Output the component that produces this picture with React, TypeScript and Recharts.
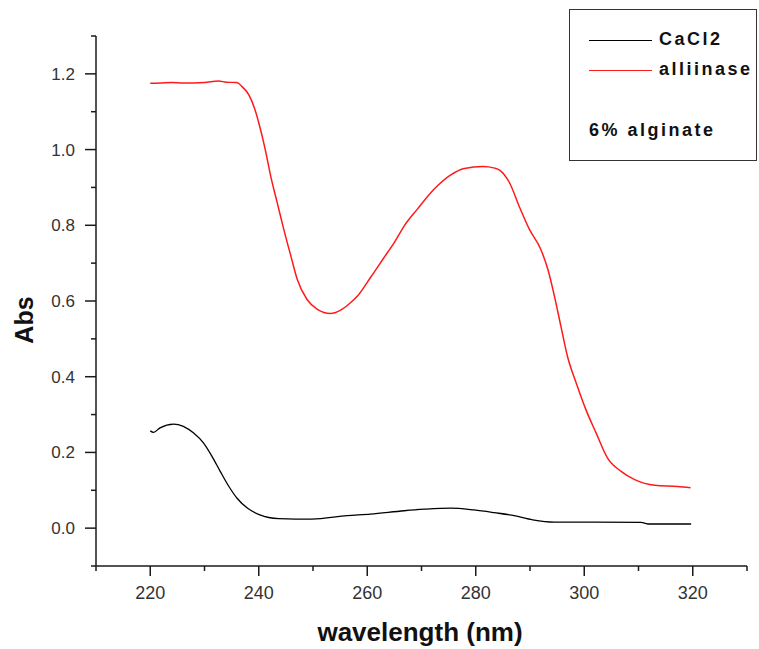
import { Line, LineChart, XAxis, YAxis } from "recharts";

// wavelength (nm) / absorbance pairs
const caclWavelength = [
  220, 220.6, 221.8, 224.3, 226.1, 228, 229.8, 231.4, 232.9, 234.5, 236, 237.9, 240.2, 243.7, 246.8,
  249.8, 256.3, 260.6, 266.8, 270.5, 275.4, 279.7, 283.4, 287.1, 290.5, 294.5, 301.9, 310.5, 311.7,
  319.7,
];
const caclAbs = [
  0.257, 0.253, 0.265, 0.275, 0.269, 0.251, 0.225, 0.189, 0.15, 0.11, 0.079, 0.053, 0.035, 0.025, 0.024,
  0.024, 0.033, 0.037, 0.046, 0.05, 0.053, 0.048, 0.041, 0.033, 0.022, 0.016, 0.016, 0.015, 0.011,
  0.011,
];

const alliinaseWavelength = [
  220, 222, 224, 226, 228, 230, 232.6, 234, 235.9, 237, 238.2, 239.2, 240, 241.2, 242.2, 243.4, 244.6,
  245.9, 247.1, 248.9, 250.8, 253.2, 255.1, 256.8, 258.2, 260.6, 263.1, 265, 266.8, 269.2, 272.3,
  275.4, 277.9, 281.3, 283.5, 284.4, 286.2, 288.1, 289.9, 292, 293.3, 294.5, 295.7, 296.9, 298.5,
  300.3, 302.2, 304.3, 306.8, 309.3, 313, 317.2, 319.6,
];
const alliinaseAbs = [
  1.175, 1.176, 1.177, 1.176, 1.176, 1.177, 1.181, 1.178, 1.177, 1.165, 1.144, 1.11, 1.071, 1.0, 0.93,
  0.86, 0.79, 0.72, 0.657, 0.604, 0.578, 0.567, 0.576, 0.594, 0.613, 0.662, 0.715, 0.755, 0.798,
  0.842, 0.895, 0.933, 0.95, 0.955, 0.951, 0.946, 0.913, 0.847, 0.789, 0.736, 0.683, 0.613, 0.533,
  0.454, 0.384, 0.313, 0.251, 0.185, 0.15, 0.128, 0.113, 0.11, 0.107,
];

const xTicks = [210, 220, 230, 240, 250, 260, 270, 280, 290, 300, 310, 320, 330];
const yTicks = [-0.1, 0, 0.1, 0.2, 0.3, 0.4, 0.5, 0.6, 0.7, 0.8, 0.9, 1.0, 1.1, 1.2, 1.3];

const caclData = caclWavelength.map((wl, i) => ({ wl, abs: caclAbs[i] }));
const alliinaseData = alliinaseWavelength.map((wl, i) => ({ wl, abs: alliinaseAbs[i] }));

const AXIS = "#1a1a1a";
const FONT = "'Liberation Sans', Arial, sans-serif";

function XTick({ x, y, payload }: any) {
  const major = Math.round(payload.value) % 20 === 0;
  return (
    <g>
      <line x1={x} x2={x} y1={y} y2={y + (major ? 10 : 5)} stroke={AXIS} strokeWidth={1.5} />
      {major && (
        <text x={x} y={y + 33} textAnchor="middle" fontSize={18} fontFamily={FONT} fill="#333">
          {payload.value}
        </text>
      )}
    </g>
  );
}

function YTick({ x, y, payload }: any) {
  const major = Math.round(payload.value * 10) % 2 === 0;
  return (
    <g>
      <line x1={x - (major ? 11 : 5)} x2={x} y1={y} y2={y} stroke={AXIS} strokeWidth={1.5} />
      {major && (
        <text x={x - 21} y={y + 6} textAnchor="end" fontSize={17} fontFamily={FONT} fill="#333">
          {Number(payload.value).toFixed(1)}
        </text>
      )}
    </g>
  );
}

const legendText: React.CSSProperties = {
  position: "absolute",
  fontFamily: FONT,
  fontWeight: "bold",
  fontSize: 18,
  letterSpacing: "2.5px",
  color: "#111",
  lineHeight: "20px",
};

function ChartLegend() {
  const rows = [
    { label: "CaCl2", color: "#000000", y: 30 },
    { label: "alliinase", color: "#ff1a1a", y: 60 },
  ];
  return (
    <div
      style={{
        position: "absolute",
        left: 569,
        top: 9,
        width: 188,
        height: 152,
        border: "1.5px solid #333",
        boxSizing: "border-box",
        background: "#fff",
      }}
    >
      {rows.map((r) => (
        <div key={r.label}>
          <div
            style={{
              position: "absolute",
              left: 19,
              top: r.y,
              width: 63,
              height: 0,
              borderTop: `1.5px solid ${r.color}`,
            }}
          />
          <div style={{ ...legendText, left: 89, top: r.y - 11 }}>{r.label}</div>
        </div>
      ))}
      <div style={{ ...legendText, left: 19, top: 110 }}>6% alginate</div>
    </div>
  );
}

export default function App() {
  return (
    <div style={{ position: "absolute", left: 0, top: 0, width: 759, height: 649, background: "#fff" }}>
      <LineChart width={759} height={649} margin={{ top: 36, right: 12, bottom: 53, left: 36 }}>
        <XAxis
          dataKey="wl"
          type="number"
          domain={[210, 330]}
          ticks={xTicks}
          interval={0}
          allowDataOverflow
          tick={<XTick />}
          tickLine={false}
          tickSize={0}
          tickMargin={0}
          height={30}
          axisLine={{ stroke: AXIS, strokeWidth: 1.5 }}
          label={{
            content: () => (
              <text
                x={420}
                y={641}
                textAnchor="middle"
                fontSize={26}
                fontWeight="bold"
                fontFamily={FONT}
                fill="#111"
              >
                wavelength (nm)
              </text>
            ),
          }}
        />
        <YAxis
          dataKey="abs"
          type="number"
          domain={[-0.1, 1.3]}
          ticks={yTicks}
          interval={0}
          allowDataOverflow
          tick={<YTick />}
          tickLine={false}
          tickSize={0}
          tickMargin={0}
          width={60}
          axisLine={{ stroke: AXIS, strokeWidth: 1.5 }}
          label={{
            content: () => (
              <text
                x={33}
                y={320}
                transform="rotate(-90 33 320)"
                textAnchor="middle"
                fontSize={25}
                fontWeight="bold"
                fontFamily={FONT}
                fill="#111"
              >
                Abs
              </text>
            ),
          }}
        />
        <Line
          data={caclData}
          dataKey="abs"
          name="CaCl2"
          type="monotone"
          stroke="#000000"
          strokeWidth={1.3}
          dot={false}
          isAnimationActive={false}
        />
        <Line
          data={alliinaseData}
          dataKey="abs"
          name="alliinase"
          type="monotone"
          stroke="#ff1a1a"
          strokeWidth={1.5}
          dot={false}
          isAnimationActive={false}
        />
      </LineChart>
      <ChartLegend />
    </div>
  );
}
